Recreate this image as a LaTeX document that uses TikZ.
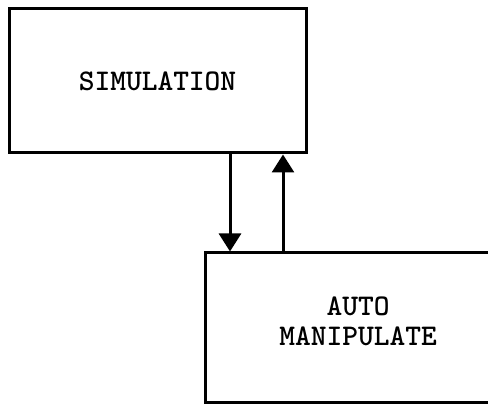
\documentclass[tikz,border=0pt]{standalone}
\usepackage{tikz}
\usetikzlibrary{positioning, calc, arrows.meta}
\tikzset{
  blockBox/.style={rectangle, draw=black, line width=3pt, fill=white, align=center, font=\ttfamily\bfseries\fontsize{30}{30}\selectfont, inner sep=0pt},
  flowArr/.style={line width=3pt, -{Triangle[width=22pt,length=18pt]}},
}

\begin{document}
\begin{tikzpicture}[x=1pt, y=-1pt]
\clip (0,0) rectangle (488,406);
\node (sim) [blockBox, minimum width=297pt, minimum height=144pt] at (157.5,81) {SIMULATION};
\node (auto) [blockBox, minimum width=306pt, minimum height=150pt, text depth=13pt] at (358,328) {AUTO\\MANIPULATE};

\coordinate (dnX) at (230,0);
\coordinate (upX) at (283,0);
\draw [flowArr] (dnX |- sim.south) -- (dnX |- auto.north);
\draw [flowArr] (upX |- auto.north) -- (upX |- sim.south);
\end{tikzpicture}
\end{document}
